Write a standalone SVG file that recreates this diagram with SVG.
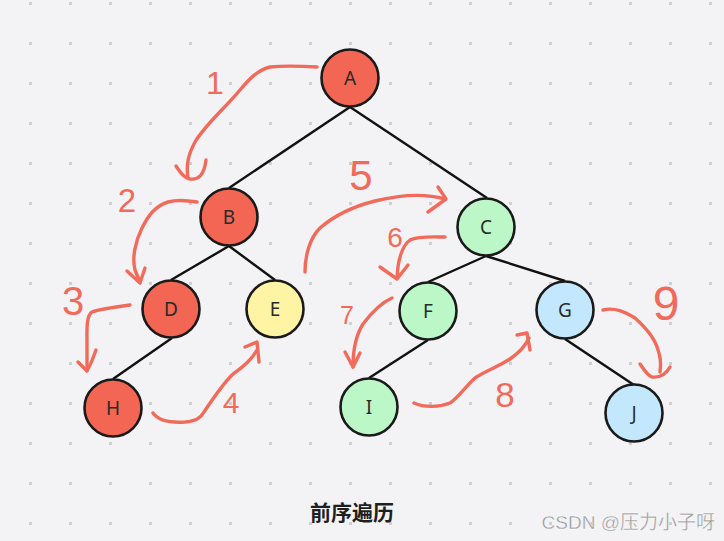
<svg xmlns="http://www.w3.org/2000/svg" width="724" height="541" viewBox="0 0 724 541">
<style>
.edge{stroke:#111;stroke-width:2.4;fill:none}
.node circle{stroke:#1a1a1a;stroke-width:2.6}
.node text{font-family:"Noto Sans","Liberation Sans",sans-serif;font-size:19px;fill:#2a2a2a;text-anchor:middle;dominant-baseline:central}
.red{fill:#F26653}
.yellow{fill:#FFF3A4}
.green{fill:#BBF7C7}
.blue{fill:#C3E8FD}
.arrow path{stroke:#F26B5A;stroke-width:3.4;fill:none;stroke-linecap:round;stroke-linejoin:round}
.num{font-family:"Liberation Sans",sans-serif;fill:#F26B5A;text-anchor:middle}
</style>
<defs>
<pattern id="dots" patternUnits="userSpaceOnUse" x="29" y="2" width="40" height="40">
<rect x="0" y="0" width="3" height="3" fill="#cfcfd2"/>
</pattern>
</defs>
<rect width="724" height="541" fill="#F3F3F6"/>
<rect width="724" height="541" fill="url(#dots)"/>

<g id="connectors">
<line class="edge" x1="350" y1="107" x2="229" y2="188"/>
<line class="edge" x1="350" y1="107" x2="487" y2="198"/>
<line class="edge" x1="229" y1="246" x2="171" y2="280"/>
<line class="edge" x1="229" y1="246" x2="275" y2="280"/>
<line class="edge" x1="486" y1="256" x2="428" y2="282"/>
<line class="edge" x1="486" y1="256" x2="565" y2="281"/>
<line class="edge" x1="172" y1="338" x2="113" y2="379"/>
<line class="edge" x1="428" y1="340" x2="369" y2="378"/>
<line class="edge" x1="565" y1="339" x2="634" y2="385"/>
</g>

<g id="node-A" class="node"><circle class="red" cx="350" cy="78" r="28.5"/><text x="350" y="78">A</text></g>
<g id="node-B" class="node"><circle class="red" cx="229" cy="217" r="28.5"/><text x="229" y="217">B</text></g>
<g id="node-C" class="node"><circle class="green" cx="486" cy="227" r="28.5"/><text x="486" y="227">C</text></g>
<g id="node-D" class="node"><circle class="red" cx="171" cy="309" r="28.5"/><text x="171" y="309">D</text></g>
<g id="node-E" class="node"><circle class="yellow" cx="275" cy="309" r="28.5"/><text x="275" y="309">E</text></g>
<g id="node-F" class="node"><circle class="green" cx="428" cy="311" r="28.5"/><text x="428" y="311">F</text></g>
<g id="node-G" class="node"><circle class="blue" cx="565" cy="310" r="28.5"/><text x="565" y="310">G</text></g>
<g id="node-H" class="node"><circle class="red" cx="113" cy="408" r="28.5"/><text x="113" y="408">H</text></g>
<g id="node-I" class="node"><circle class="green" cx="369" cy="407" r="28.5"/><text x="369" y="407">I</text></g>
<g id="node-J" class="node"><circle class="blue" cx="634" cy="413" r="28.5"/><text x="634" y="413">J</text></g>

<g id="traversal" class="arrow">
<path d="M317,67 C300,66 280,66 270,67 C258,70 250,78 240,90 C225,108 205,125 195,142 C188,155 186,165 188,178"/>
<path d="M176,166 C180,172 184,178 190,179 C198,180 204,176 206,160"/>
<path d="M197,202 C185,200 175,200 168,202 C155,206 148,216 142,228 C135,242 132,258 135,270 L140,282"/>
<path d="M127,271 L140,283 L145,268"/>
<path d="M130,305 C115,307 100,309 92,312 C86,316 87,330 87,345 L87,370"/>
<path d="M78,362 L87,371 Q92,362 96,350"/>
<path d="M153,413 C158,420 170,423 185,422 C195,421 200,419 204,412 C212,400 222,385 232,375 C242,367 250,362 257,350"/>
<path d="M245,347 L257,342 L259,362"/>
<path d="M305,272 C305,255 310,238 320,228 C335,215 355,206 375,201 C395,196 420,192 445,199"/>
<path d="M438,187 L446,199 L428,212"/>
<path d="M445,237 C432,237 418,236 410,240 C402,246 398,258 397,278"/>
<path d="M380,267 L397,279 L408,265"/>
<path d="M392,298 C383,302 372,312 363,324 C356,335 353,350 353,367"/>
<path d="M345,352 L353,367 L360,353"/>
<path d="M414,403 C425,408 440,407 450,403 C458,398 465,387 475,378 C485,371 500,366 510,359 C520,352 526,345 529,338"/>
<path d="M517,335 L527,333 L530,350"/>
<path d="M603,310 C615,307 625,312 635,318 C645,327 655,338 658,350 C661,358 661,365 660,372"/>
<path d="M640,364 C644,370 648,376 652,377 C660,378 666,374 670,367"/>
</g>

<g id="step-labels">
<text class="num" x="215" y="94" font-size="32">1</text>
<text class="num" x="127" y="212" font-size="33">2</text>
<text class="num" x="73" y="315" font-size="40">3</text>
<text class="num" x="231" y="413" font-size="30">4</text>
<text class="num" x="361" y="190" font-size="42">5</text>
<text class="num" x="395" y="247" font-size="28">6</text>
<text class="num" x="347" y="324" font-size="25">7</text>
<text class="num" x="505" y="407" font-size="35">8</text>
<text class="num" x="666" y="320" font-size="48">9</text>
</g>

<text x="352" y="520" font-family="'Noto Sans CJK SC',sans-serif" font-size="21" font-weight="bold" fill="#1f1f1f" text-anchor="middle">前序遍历</text>
<text x="715" y="529" font-family="'Liberation Sans','Noto Sans CJK SC',sans-serif" font-size="19" fill="#9a9a9a" text-anchor="end" stroke="#ffffff" stroke-width="0.3">CSDN @压力小子呀</text>
</svg>
